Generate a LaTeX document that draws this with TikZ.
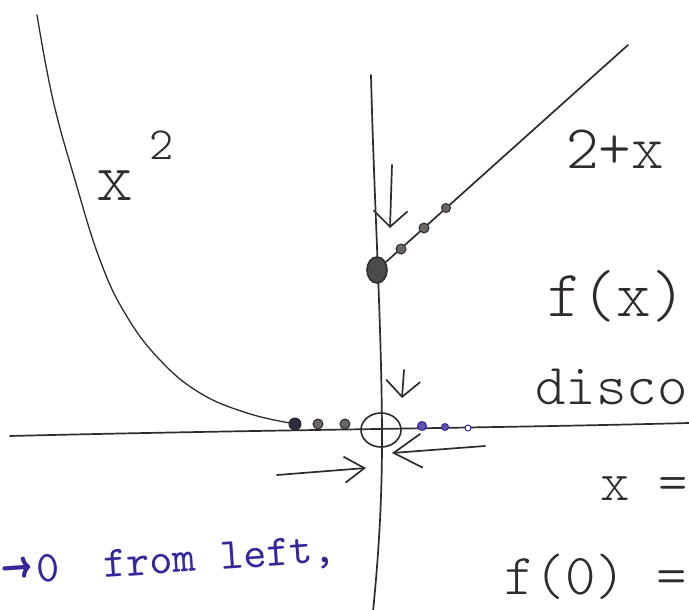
\documentclass[tikz,border=0pt]{standalone}
\usepackage{fontspec}
\usepackage{tikz}
\usetikzlibrary{arrows.meta,shapes.geometric}
\newfontfamily\handfont{lmmonolt10-regular.otf}
\newfontfamily\inkfont{lmmono10-regular.otf}
\newcommand{\handsize}[1]{\fontsize{#1}{#1}\selectfont}
\definecolor{pencil}{HTML}{2E2B2A}
\definecolor{lead}{HTML}{6A6462}
\definecolor{ink}{HTML}{35289A}
\tikzset{
  stroke/.style={pencil, line width=1.7pt, line cap=round, line join=round},
  downhint/.style={stroke, -{Straight Barb[length=16pt, width=34pt]}},
  sidehint/.style={stroke, -{Straight Barb[length=20pt, width=26pt]}},
  bigdot/.style={ellipse, draw=pencil, fill=pencil!85, line width=1.6pt, minimum width=20pt, minimum height=26pt, inner sep=0pt},
  hollow/.style={ellipse, draw=pencil, line width=1.6pt, minimum width=40pt, minimum height=34pt, inner sep=0pt},
  dot/.style={circle, draw=pencil, fill=lead, line width=1pt, minimum size=#1, inner sep=0pt},
  dot/.default=10pt,
  bluedot/.style={circle, draw=ink, fill=ink!80, line width=1pt, minimum size=#1, inner sep=0pt},
  bluedot/.default=9pt,
  hand/.style={pencil, inner sep=0pt, anchor=base west},
}

\begin{document}
\begin{tikzpicture}[x=1pt, y=-1pt]
  \useasboundingbox (0,0) rectangle (689,610);
  \clip (0,0) rectangle (689,610);

  % axes
  \draw[stroke] (10,436) .. controls (250,430) and (500,428) .. (689,423);
  \draw[stroke] (371,75) .. controls (374,200) and (382,330) .. (382,440) .. controls (382,520) and (376,580) .. (373,612);

  % left branch x^2
  \draw[stroke, line width=1.3pt] plot[smooth, tension=0.7] coordinates {(37,15) (53,100) (75,180) (100,260) (126,315) (160,360) (200,393) (247,413) (290,423)};

  % right branch 2+x
  \node[bigdot] (jump) at (377,270) {};
  \coordinate (rayend) at (628,45);
  \draw[stroke] (jump) -- (rayend);
  \node[dot] (r1) at (401,249) {};
  \node[dot] (r2) at (424,228) {};
  \node[dot=9pt] (r3) at (446,208) {};

  % hole at the origin and points on the axis
  \node[hollow] (gap) at (381,430) {};
  \node[dot=12pt, fill=pencil!80!ink] (l1) at (295,424) {};
  \node[dot] (l2) at (318,424) {};
  \node[dot] (l3) at (345,424) {};
  \node[bluedot] (b1) at (422,426) {};
  \node[bluedot=7pt] (b2) at (445,427) {};
  \node[bluedot=6pt, fill=white] (b3) at (468,428) {};

  % arrows
  \coordinate (up1) at (392,165);
  \coordinate (tip1) at (390,228);
  \draw[downhint] (up1) -- (tip1);
  \coordinate (up2) at (404,370);
  \coordinate (tip2) at (402,398);
  \draw[downhint] (up2) -- (tip2);
  \coordinate (fromL) at (277,475);
  \coordinate (tipL) at (366,468);
  \draw[sidehint] (fromL) -- (tipL);
  \coordinate (fromR) at (485,446);
  \coordinate (tipR) at (392,453);
  \draw[stroke, -{Straight Barb[length=28pt, width=34pt]}] (fromR) -- (tipR);

  % labels
  \node[hand, font=\handfont\handsize{70}] (sq) at (96,200) {x\hspace{17pt}\raisebox{40pt}{\handsize{46}2}};
  \node[hand, font=\handfont\handsize{62}] (rayname) at (566,168) {2+x};
  \node[hand, font=\handfont\handsize{66}] (fx) at (547,316) {f(x)};
  \node[hand, font=\handfont\handsize{58}] (disc) at (535,404) {disco};
  \node[hand, font=\handfont\handsize{56}] (xeq) at (600,500) {x =};
  \node[hand, font=\handfont\handsize{58}] (fzero) at (504,594) {f(0) =};
  \node[hand, ink, font=\inkfont\handsize{44}, rotate=4] (fromleft) at (2,585) {\raisebox{-3pt}{\handsize{60}→}\hspace{4pt}0\hspace{44pt}from\hspace{25pt}left,};
\end{tikzpicture}
\end{document}
